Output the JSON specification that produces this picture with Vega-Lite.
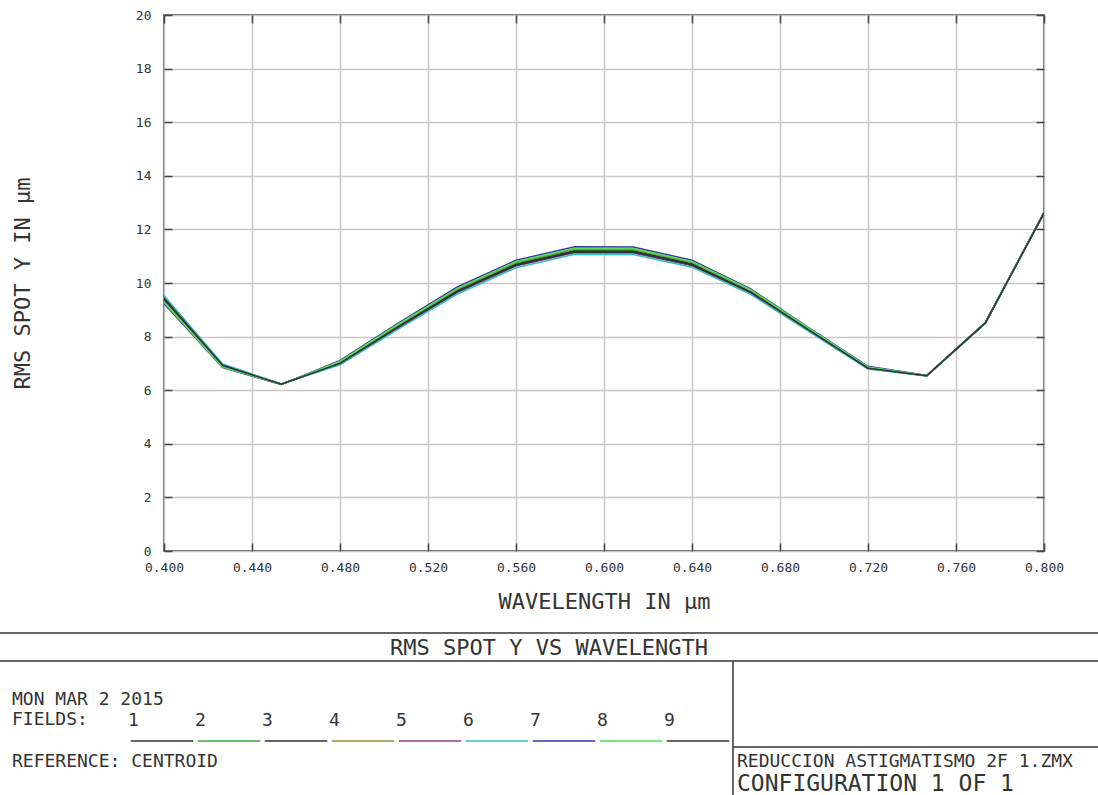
{
  "$schema": "https://vega.github.io/schema/vega-lite/v6.json",
  "width": 880,
  "height": 536,
  "autosize": {"type": "none"},
  "padding": {"left": 164, "top": 15, "right": 54, "bottom": 244},
  "background": "white",
  "config": {
    "view": {"stroke": "#333333", "strokeWidth": 1.5},
    "font": "DejaVu Sans Mono",
    "axis": {"labelFont": "DejaVu Sans Mono", "titleFont": "DejaVu Sans Mono"},
    "text": {"font": "DejaVu Sans Mono"},
    "legend": {"labelFont": "DejaVu Sans Mono", "titleFont": "DejaVu Sans Mono"}
  },
  "datasets": {
    "rms": [
      {"field":"1","wavelength":0.4,"rms":9.38},{"field":"1","wavelength":0.42667,"rms":6.91},{"field":"1","wavelength":0.45333,"rms":6.22},{"field":"1","wavelength":0.48,"rms":7.03},{"field":"1","wavelength":0.50667,"rms":8.40},{"field":"1","wavelength":0.53333,"rms":9.72},{"field":"1","wavelength":0.56,"rms":10.71},{"field":"1","wavelength":0.58667,"rms":11.21},{"field":"1","wavelength":0.61333,"rms":11.20},{"field":"1","wavelength":0.64,"rms":10.72},{"field":"1","wavelength":0.66667,"rms":9.68},{"field":"1","wavelength":0.69333,"rms":8.25},{"field":"1","wavelength":0.72,"rms":6.84},{"field":"1","wavelength":0.74667,"rms":6.54},{"field":"1","wavelength":0.77333,"rms":8.51},{"field":"1","wavelength":0.8,"rms":12.62},
      {"field":"2","wavelength":0.4,"rms":9.34},{"field":"2","wavelength":0.42667,"rms":6.89},{"field":"2","wavelength":0.45333,"rms":6.22},{"field":"2","wavelength":0.48,"rms":7.05},{"field":"2","wavelength":0.50667,"rms":8.43},{"field":"2","wavelength":0.53333,"rms":9.76},{"field":"2","wavelength":0.56,"rms":10.75},{"field":"2","wavelength":0.58667,"rms":11.25},{"field":"2","wavelength":0.61333,"rms":11.24},{"field":"2","wavelength":0.64,"rms":10.76},{"field":"2","wavelength":0.66667,"rms":9.71},{"field":"2","wavelength":0.69333,"rms":8.27},{"field":"2","wavelength":0.72,"rms":6.86},{"field":"2","wavelength":0.74667,"rms":6.54},{"field":"2","wavelength":0.77333,"rms":8.51},{"field":"2","wavelength":0.8,"rms":12.63},
      {"field":"3","wavelength":0.4,"rms":9.41},{"field":"3","wavelength":0.42667,"rms":6.92},{"field":"3","wavelength":0.45333,"rms":6.22},{"field":"3","wavelength":0.48,"rms":7.01},{"field":"3","wavelength":0.50667,"rms":8.38},{"field":"3","wavelength":0.53333,"rms":9.69},{"field":"3","wavelength":0.56,"rms":10.68},{"field":"3","wavelength":0.58667,"rms":11.18},{"field":"3","wavelength":0.61333,"rms":11.17},{"field":"3","wavelength":0.64,"rms":10.69},{"field":"3","wavelength":0.66667,"rms":9.66},{"field":"3","wavelength":0.69333,"rms":8.24},{"field":"3","wavelength":0.72,"rms":6.83},{"field":"3","wavelength":0.74667,"rms":6.54},{"field":"3","wavelength":0.77333,"rms":8.51},{"field":"3","wavelength":0.8,"rms":12.62},
      {"field":"4","wavelength":0.4,"rms":9.30},{"field":"4","wavelength":0.42667,"rms":6.87},{"field":"4","wavelength":0.45333,"rms":6.21},{"field":"4","wavelength":0.48,"rms":7.07},{"field":"4","wavelength":0.50667,"rms":8.46},{"field":"4","wavelength":0.53333,"rms":9.79},{"field":"4","wavelength":0.56,"rms":10.79},{"field":"4","wavelength":0.58667,"rms":11.29},{"field":"4","wavelength":0.61333,"rms":11.28},{"field":"4","wavelength":0.64,"rms":10.79},{"field":"4","wavelength":0.66667,"rms":9.74},{"field":"4","wavelength":0.69333,"rms":8.29},{"field":"4","wavelength":0.72,"rms":6.87},{"field":"4","wavelength":0.74667,"rms":6.55},{"field":"4","wavelength":0.77333,"rms":8.52},{"field":"4","wavelength":0.8,"rms":12.63},
      {"field":"5","wavelength":0.4,"rms":9.47},{"field":"5","wavelength":0.42667,"rms":6.95},{"field":"5","wavelength":0.45333,"rms":6.23},{"field":"5","wavelength":0.48,"rms":6.98},{"field":"5","wavelength":0.50667,"rms":8.33},{"field":"5","wavelength":0.53333,"rms":9.64},{"field":"5","wavelength":0.56,"rms":10.63},{"field":"5","wavelength":0.58667,"rms":11.13},{"field":"5","wavelength":0.61333,"rms":11.12},{"field":"5","wavelength":0.64,"rms":10.64},{"field":"5","wavelength":0.66667,"rms":9.62},{"field":"5","wavelength":0.69333,"rms":8.21},{"field":"5","wavelength":0.72,"rms":6.81},{"field":"5","wavelength":0.74667,"rms":6.53},{"field":"5","wavelength":0.77333,"rms":8.50},{"field":"5","wavelength":0.8,"rms":12.61},
      {"field":"6","wavelength":0.4,"rms":9.53},{"field":"6","wavelength":0.42667,"rms":6.98},{"field":"6","wavelength":0.45333,"rms":6.23},{"field":"6","wavelength":0.48,"rms":6.95},{"field":"6","wavelength":0.50667,"rms":8.29},{"field":"6","wavelength":0.53333,"rms":9.59},{"field":"6","wavelength":0.56,"rms":10.57},{"field":"6","wavelength":0.58667,"rms":11.07},{"field":"6","wavelength":0.61333,"rms":11.06},{"field":"6","wavelength":0.64,"rms":10.59},{"field":"6","wavelength":0.66667,"rms":9.58},{"field":"6","wavelength":0.69333,"rms":8.18},{"field":"6","wavelength":0.72,"rms":6.79},{"field":"6","wavelength":0.74667,"rms":6.53},{"field":"6","wavelength":0.77333,"rms":8.50},{"field":"6","wavelength":0.8,"rms":12.60},
      {"field":"7","wavelength":0.4,"rms":9.23},{"field":"7","wavelength":0.42667,"rms":6.84},{"field":"7","wavelength":0.45333,"rms":6.21},{"field":"7","wavelength":0.48,"rms":7.11},{"field":"7","wavelength":0.50667,"rms":8.51},{"field":"7","wavelength":0.53333,"rms":9.85},{"field":"7","wavelength":0.56,"rms":10.85},{"field":"7","wavelength":0.58667,"rms":11.35},{"field":"7","wavelength":0.61333,"rms":11.34},{"field":"7","wavelength":0.64,"rms":10.85},{"field":"7","wavelength":0.66667,"rms":9.78},{"field":"7","wavelength":0.69333,"rms":8.32},{"field":"7","wavelength":0.72,"rms":6.89},{"field":"7","wavelength":0.74667,"rms":6.55},{"field":"7","wavelength":0.77333,"rms":8.52},{"field":"7","wavelength":0.8,"rms":12.64},
      {"field":"8","wavelength":0.4,"rms":9.28},{"field":"8","wavelength":0.42667,"rms":6.86},{"field":"8","wavelength":0.45333,"rms":6.21},{"field":"8","wavelength":0.48,"rms":7.08},{"field":"8","wavelength":0.50667,"rms":8.47},{"field":"8","wavelength":0.53333,"rms":9.80},{"field":"8","wavelength":0.56,"rms":10.80},{"field":"8","wavelength":0.58667,"rms":11.30},{"field":"8","wavelength":0.61333,"rms":11.29},{"field":"8","wavelength":0.64,"rms":10.80},{"field":"8","wavelength":0.66667,"rms":9.75},{"field":"8","wavelength":0.69333,"rms":8.30},{"field":"8","wavelength":0.72,"rms":6.87},{"field":"8","wavelength":0.74667,"rms":6.55},{"field":"8","wavelength":0.77333,"rms":8.52},{"field":"8","wavelength":0.8,"rms":12.63},
      {"field":"9","wavelength":0.4,"rms":9.43},{"field":"9","wavelength":0.42667,"rms":6.93},{"field":"9","wavelength":0.45333,"rms":6.22},{"field":"9","wavelength":0.48,"rms":7.00},{"field":"9","wavelength":0.50667,"rms":8.36},{"field":"9","wavelength":0.53333,"rms":9.67},{"field":"9","wavelength":0.56,"rms":10.66},{"field":"9","wavelength":0.58667,"rms":11.16},{"field":"9","wavelength":0.61333,"rms":11.15},{"field":"9","wavelength":0.64,"rms":10.67},{"field":"9","wavelength":0.66667,"rms":9.65},{"field":"9","wavelength":0.69333,"rms":8.23},{"field":"9","wavelength":0.72,"rms":6.82},{"field":"9","wavelength":0.74667,"rms":6.54},{"field":"9","wavelength":0.77333,"rms":8.51},{"field":"9","wavelength":0.8,"rms":12.61}
    ]
  },
  "layer": [
    {
      "data": {"name": "rms"},
      "mark": {"type": "line", "strokeWidth": 1.5, "clip": true},
      "encoding": {
        "x": {
          "field": "wavelength", "type": "quantitative",
          "scale": {"domain": [0.4, 0.8], "nice": false, "zero": false},
          "axis": {
            "orient": "bottom",
            "values": [0.4, 0.44, 0.48, 0.52, 0.56, 0.6, 0.64, 0.68, 0.72, 0.76, 0.8],
            "format": ".3f", "labelFlush": false, "labelOverlap": false,
            "grid": true, "gridColor": "#c8c8c8", "gridWidth": 1.5,
            "domain": false, "tickSize": -8, "tickColor": "#444444", "tickWidth": 1.5,
            "labelFontSize": 13, "labelColor": "#333333", "labelPadding": 18,
            "title": "WAVELENGTH IN µm", "titleFontSize": 22, "titleFontWeight": "normal",
            "titleColor": "#333333", "titlePadding": 17
          }
        },
        "y": {
          "field": "rms", "type": "quantitative",
          "scale": {"domain": [0, 20], "nice": false, "zero": true},
          "axis": {
            "orient": "left",
            "values": [0, 2, 4, 6, 8, 10, 12, 14, 16, 18, 20],
            "format": "d", "labelOverlap": false,
            "grid": true, "gridColor": "#c8c8c8", "gridWidth": 1.5,
            "domain": false, "tickSize": -8, "tickColor": "#444444", "tickWidth": 1.5,
            "labelFontSize": 13, "labelColor": "#333333", "labelPadding": 21,
            "title": "RMS SPOT Y IN µm", "titleFontSize": 22, "titleFontWeight": "normal",
            "titleColor": "#333333", "titlePadding": 101
          }
        },
        "color": {
          "field": "field", "type": "nominal",
          "scale": {
            "domain": ["1", "2", "3", "4", "5", "6", "7", "8", "9"],
            "range": ["#333333", "#3aa83a", "#3a2a3a", "#8f8f35", "#8f3f8f", "#30c0c0", "#3535a5", "#55dd55", "#333333"]
          },
          "legend": {
            "orient": "none", "legendX": -34, "legendY": 694,
            "direction": "horizontal", "columns": 9, "columnPadding": -5.5,
            "padding": 0, "title": null,
            "symbolType": "stroke", "symbolSize": 3906, "symbolStrokeWidth": 1.5,
            "labelFontSize": 18, "labelColor": "#333333", "labelOffset": -66,
            "labelAlign": "left", "labelBaseline": "middle",
            "encode": {"labels": {"update": {"dy": {"value": -20}}}}
          }
        }
      }
    },
    {
      "data": {"name": "rms"},
      "mark": {"type": "point", "opacity": 0},
      "encoding": {
        "x": {
          "field": "wavelength", "type": "quantitative",
          "scale": {"domain": [0.4, 0.8], "nice": false, "zero": false},
          "axis": {
            "orient": "top",
            "values": [0.4, 0.44, 0.48, 0.52, 0.56, 0.6, 0.64, 0.68, 0.72, 0.76, 0.8],
            "labels": false, "grid": false, "domain": false,
            "tickSize": -8, "tickColor": "#444444", "tickWidth": 1.5, "title": null
          }
        },
        "y": {
          "field": "rms", "type": "quantitative",
          "scale": {"domain": [0, 20], "nice": false, "zero": true},
          "axis": {
            "orient": "right",
            "values": [0, 2, 4, 6, 8, 10, 12, 14, 16, 18, 20],
            "labels": false, "grid": false, "domain": false,
            "tickSize": -8, "tickColor": "#444444", "tickWidth": 1.5, "title": null
          }
        }
      }
    },
    {
      "data": {"values": [{"label": "RMS SPOT Y VS WAVELENGTH"}]},
      "mark": {"type": "text", "fontSize": 22, "align": "center", "baseline": "middle", "color": "#333333"},
      "encoding": {"text": {"field": "label"}, "x": {"value": 385}, "y": {"value": 633}}
    },
    {
      "data": {"values": [{"label": "MON MAR 2 2015"}]},
      "mark": {"type": "text", "fontSize": 18, "align": "left", "baseline": "middle", "color": "#333333"},
      "encoding": {"text": {"field": "label"}, "x": {"value": -152}, "y": {"value": 685}}
    },
    {
      "data": {"values": [{"label": "FIELDS:"}]},
      "mark": {"type": "text", "fontSize": 18, "align": "left", "baseline": "middle", "color": "#333333"},
      "encoding": {"text": {"field": "label"}, "x": {"value": -152}, "y": {"value": 705}}
    },
    {
      "data": {"values": [{"label": "REFERENCE: CENTROID"}]},
      "mark": {"type": "text", "fontSize": 18, "align": "left", "baseline": "middle", "color": "#333333"},
      "encoding": {"text": {"field": "label"}, "x": {"value": -152}, "y": {"value": 747}}
    },
    {
      "data": {"values": [{"label": "REDUCCION ASTIGMATISMO 2F 1.ZMX"}]},
      "mark": {"type": "text", "fontSize": 18, "align": "left", "baseline": "middle", "color": "#333333"},
      "encoding": {"text": {"field": "label"}, "x": {"value": 573}, "y": {"value": 747}}
    },
    {
      "data": {"values": [{"label": "CONFIGURATION 1 OF 1"}]},
      "mark": {"type": "text", "fontSize": 23, "align": "left", "baseline": "middle", "color": "#333333"},
      "encoding": {"text": {"field": "label"}, "x": {"value": 573}, "y": {"value": 769}}
    },
    {
      "data": {"values": [{"line": "title top"}]},
      "mark": {"type": "rule", "color": "#333333", "strokeWidth": 1.5},
      "encoding": {"x": {"value": -164}, "x2": {"value": 934}, "y": {"value": 618}}
    },
    {
      "data": {"values": [{"line": "title bottom"}]},
      "mark": {"type": "rule", "color": "#333333", "strokeWidth": 1.5},
      "encoding": {"x": {"value": -164}, "x2": {"value": 934}, "y": {"value": 646}}
    },
    {
      "data": {"values": [{"line": "divider"}]},
      "mark": {"type": "rule", "color": "#333333", "strokeWidth": 1.5},
      "encoding": {"x": {"value": 569}, "y": {"value": 646}, "y2": {"value": 780}}
    },
    {
      "data": {"values": [{"line": "right box"}]},
      "mark": {"type": "rule", "color": "#333333", "strokeWidth": 1.5},
      "encoding": {"x": {"value": 569}, "x2": {"value": 934}, "y": {"value": 732}}
    }
  ],
  "resolve": {"axis": {"x": "independent", "y": "independent"}}
}
